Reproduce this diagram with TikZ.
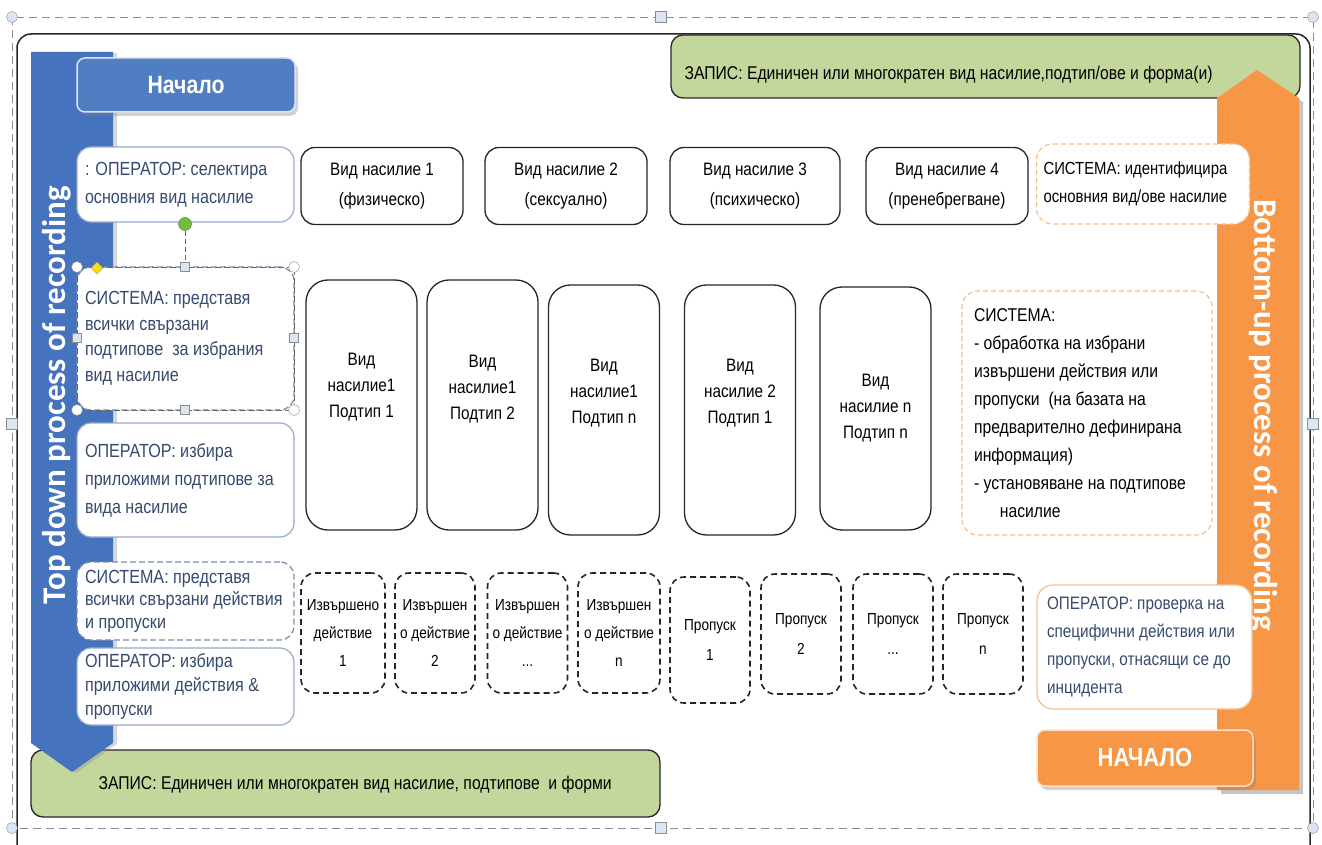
\documentclass[tikz,border=0pt]{standalone}
\usepackage{fontspec}
\setmainfont[FakeStretch=0.85]{Liberation Sans}
\newfontfamily\bandfont{Carlito}
\usetikzlibrary{shadows,shapes.geometric}
\definecolor{topblue}{RGB}{70,115,190}
\definecolor{btnblue}{RGB}{79,126,194}
\definecolor{uporange}{RGB}{247,150,70}
\definecolor{zapisgreen}{RGB}{195,214,155}
\definecolor{opertext}{RGB}{55,75,110}
\definecolor{operedge}{RGB}{150,172,205}
\definecolor{sysblue}{RGB}{120,140,175}
\definecolor{sysedge}{RGB}{248,190,140}
\definecolor{handlefill}{RGB}{220,230,242}
\definecolor{handlegreen}{RGB}{110,190,60}
\begin{document}
\begin{tikzpicture}[x=1pt,y=-1pt,
    typebox/.style={draw=black!85,line width=1.3pt,rounded corners=14,fill=white,minimum width=162,minimum height=77,align=center,font=\fontsize{18}{30}\selectfont},
    subbox/.style={draw=black!85,line width=1.3pt,rounded corners=22,fill=white,minimum width=111,minimum height=250},
    subtext/.style={align=center,font=\fontsize{18}{26}\selectfont},
    actbox/.style={draw=black!85,line width=1.6pt,dash pattern=on 6pt off 4pt,rounded corners=14,minimum width=80,minimum height=120,align=center,font=\fontsize{16}{28}\selectfont},
    operbox/.style={draw=operedge,line width=1.2pt,rounded corners=14,fill=white,text=opertext,align=flush left,text width=201,inner xsep=8,minimum width=217,font=\fontsize{19}{27}\selectfont},
    sysleft/.style={operbox,draw=sysblue,dash pattern=on 6pt off 3pt},
    sysright/.style={draw=sysedge,line width=1.2pt,dash pattern=on 5pt off 3pt,rounded corners=16,fill=white,align=flush left,inner xsep=11,font=\fontsize{18.5}{28}\selectfont},
    zapis/.style={draw=black!85,line width=1.3pt,rounded corners=12,fill=zapisgreen},
    zapistext/.style={anchor=west,font=\fontsize{18.5}{18.5}\selectfont},
    startbtn/.style={draw=white!80!btnblue,line width=1.5pt,rounded corners=8,text=white,font=\bfseries\fontsize{25}{25}\selectfont,drop shadow={shadow xshift=3pt,shadow yshift=-4pt,opacity=0.35}},
    hcirc/.style={circle,draw=black!45,fill=white,inner sep=0pt,minimum size=11},
    hsq/.style={draw=black!45,fill=handlefill,inner sep=0pt,minimum size=9},
    bandtext/.style={text=white,font=\bandfont\bfseries\fontsize{33}{33}\selectfont}
  ]
\useasboundingbox (0,0) rectangle (1322,845);
\fill[white] (0,0) rectangle (1322,845);

\draw[black!45,dash pattern=on 8pt off 5pt] (12,17) rectangle (1313,828);
\draw[black!85,line width=1.5pt,rounded corners=14] (17,845) -- (17,34) -- (1310,34) -- (1310,845);

\node[zapis,minimum width=629,minimum height=63] (zapistop) at (985.5,66.5) {};
\node[zapistext] (zapistoptext) at (681,75) {ЗАПИС: Единичен или многократен вид насилие,подтип/ове и форма(и)};
\node[zapis,minimum width=629,minimum height=67] (zapisbot) at (345.5,783.5) {};
\node[zapistext] (zapisbottext) at (95,785) {ЗАПИС: Единичен или многократен вид насилие, подтипове \ и форми};

\fill[topblue,drop shadow={shadow xshift=4pt,shadow yshift=-1pt,opacity=0.3}] (31,52) -- (113,52) -- (113,743) -- (72,772) -- (31,743) -- cycle;
\fill[uporange,drop shadow={shadow xshift=4pt,shadow yshift=-4pt,opacity=0.45}] (1257,70) -- (1299,98) -- (1299,790) -- (1217,790) -- (1217,98) -- cycle;
\node[bandtext,rotate=90] (topdown) at (57,395) {Top down process of recording};
\node[bandtext,rotate=-90] (bottomup) at (1263,415) {Bottom-up process of recording};

\node[startbtn,fill=btnblue,minimum width=218,minimum height=54] (nachalo) at (186,85) {Начало};
\node[startbtn,fill=uporange,draw=white!70!uporange,minimum width=216,minimum height=56,font=\bfseries\fontsize{26}{26}\selectfont] (nachaloup) at (1145,758) {НАЧАЛО};

\node[operbox,minimum height=75,font=\fontsize{19}{28}\selectfont] (oper1) at (185.5,184.5) {: ОПЕРАТОР: селектира\\основния вид насилие};
\node[sysleft,minimum height=143,font=\fontsize{19}{25.5}\selectfont] (sys1) at (185.5,338.5) {СИСТЕМА: представя\\всички свързани\\подтипове \ за избрания\\вид насилие};
\node[operbox,minimum height=114,font=\fontsize{19}{28}\selectfont] (oper2) at (185.5,480) {ОПЕРАТОР: избира\\приложими подтипове за\\вида насилие};
\node[sysleft,minimum height=78,font=\fontsize{19}{22.5}\selectfont] (sys2) at (185.5,601) {СИСТЕМА: представя\\всички свързани действия\\и пропуски};
\node[operbox,minimum height=77,font=\fontsize{19}{24}\selectfont] (oper3) at (185.5,686.5) {ОПЕРАТОР: избира\\приложими действия \&\\пропуски};

\draw[black!60,dash pattern=on 6pt off 3pt] (77,267) rectangle (294,410);
\node[circle,draw=black!60,fill=handlegreen,inner sep=0pt,minimum size=13] (rot) at (185,224) {};
\node[hsq] (hsqtop) at (185,267) {};
\node[hsq] (hsqbot) at (185,410) {};
\node[hsq] (hsqleft) at (77,338) {};
\node[hsq] (hsqright) at (294,338) {};
\node[hcirc] (hctl) at (77,267) {};
\node[hcirc] (hctr) at (294,267) {};
\node[hcirc] (hcbl) at (77,410) {};
\node[hcirc] (hcbr) at (294,410) {};
\node[diamond,draw=black!40,fill=yellow!80!orange,inner sep=0pt,minimum size=12] (adj) at (97,268) {};
\draw[black!60,dash pattern=on 5pt off 3pt] (rot) -- (hsqtop);

\node[typebox] (vid1) at (382,186) {Вид насилие 1\\(физическо)};
\node[typebox] (vid2) at (566,186) {Вид насилие 2\\(сексуално)};
\node[typebox,minimum width=170] (vid3) at (755,186) {Вид насилие 3\\(психическо)};
\node[typebox] (vid4) at (947,186) {Вид насилие 4\\(пренебрегване)};
\node[sysright,minimum width=213,minimum height=80,text width=199,inner xsep=7,font=\fontsize{17.5}{28}\selectfont] (sysvid) at (1143,184) {СИСТЕМА: идентифицира\\основния вид/ове насилие};

\node[subbox] (sub1) at (361.5,405) {};
\node[subbox] (sub2) at (482.5,405) {};
\node[subbox] (sub3) at (604,410) {};
\node[subbox] (sub4) at (740,410) {};
\node[subbox,minimum height=243] (sub5) at (875.5,408.5) {};
\node[subtext,yshift=18pt] (sub1text) at (sub1.center) {Вид\\насилие1\\Подтип 1};
\node[subtext,yshift=16pt] (sub2text) at (sub2.center) {Вид\\насилие1\\Подтип 2};
\node[subtext,yshift=17pt] (sub3text) at (sub3.center) {Вид\\насилие1\\Подтип n};
\node[subtext,yshift=17pt] (sub4text) at (sub4.center) {Вид\\насилие 2\\Подтип 1};
\node[subtext] (sub5text) at (sub5.center) {Вид\\насилие n\\Подтип n};

\node[sysright,minimum width=250,minimum height=244,text width=226,inner xsep=12] (sysproc) at (1087,413) {СИСТЕМА:\\- обработка на избрани\\извършени действия или\\пропуски \ (на базата на\\предварително дефинирана\\информация)\\- установяване на подтипове\\\hspace*{1.4em}насилие};

\node[actbox,minimum width=84] (act1) at (343,633) {Извършено\\действие\\1};
\node[actbox] (act2) at (435,633) {Извършен\\о действие\\2};
\node[actbox] (act3) at (527.5,633) {Извършен\\о действие\\...};
\node[actbox,minimum width=82] (act4) at (619,633) {Извършен\\о действие\\n};
\node[actbox,minimum height=126,font=\fontsize{16}{30}\selectfont] (omit1) at (710,640) {Пропуск\\1};
\node[actbox,font=\fontsize{16}{30}\selectfont] (omit2) at (801,634) {Пропуск\\2};
\node[actbox,font=\fontsize{16}{30}\selectfont] (omit3) at (893,634) {Пропуск\\...};
\node[actbox,font=\fontsize{16}{30}\selectfont] (omit4) at (983,634) {Пропуск\\n};

\node[sysright,draw=sysedge,solid,text=opertext,minimum width=215,minimum height=124,text width=195,inner xsep=10,font=\fontsize{18}{27.7}\selectfont] (opercheck) at (1144.5,647) {ОПЕРАТОР: проверка на\\специфични действия или\\пропуски, отнасящи се до\\инцидента};

\node[hcirc,fill=handlefill] (selnw) at (12,17) {};
\node[hcirc,fill=handlefill] (selne) at (1313,17) {};
\node[hcirc,fill=handlefill] (selsw) at (12,828) {};
\node[hcirc,fill=handlefill] (selse) at (1313,828) {};
\node[hsq,minimum size=11] (seln) at (661,17) {};
\node[hsq,minimum size=11] (sels) at (661,828) {};
\node[hsq,minimum size=11] (selw) at (12,424) {};
\node[hsq,minimum size=11] (sele) at (1313,424) {};
\end{tikzpicture}
\end{document}
